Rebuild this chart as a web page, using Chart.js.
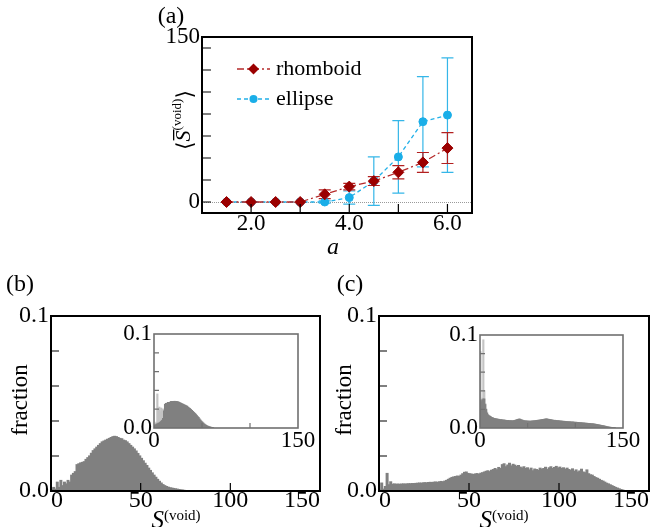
<!DOCTYPE html>
<html>
<head>
<meta charset="utf-8">
<script src="https://cdn.jsdelivr.net/npm/chart.js@4.4.0/dist/chart.umd.min.js"></script>
<style>
  html, body { margin: 0; padding: 0; background: #fff; }
  #wrap { position: relative; width: 652px; height: 527px; overflow: hidden; background: #fff; }
  #wrap canvas { position: absolute; left: 0; top: 0; }
</style>
</head>
<body>
<div id="wrap">
  <canvas id="chartA" width="652" height="527"></canvas>
  <canvas id="chartB" width="652" height="527"></canvas>
  <canvas id="chartBInset" width="652" height="527"></canvas>
  <canvas id="chartC" width="652" height="527"></canvas>
  <canvas id="chartCInset" width="652" height="527"></canvas>
</div>
<script>
// --- Panel (a): mean void size vs a ---
const aValues = [1.5, 2.0, 2.5, 3.0, 3.5, 4.0, 4.5, 5.0, 5.5, 6.0];
const rhomboidMean = [0, 0, 0, 0, 7, 14, 19, 27, 36, 49];
const rhomboidErr = [0, 0, 0, 0, 4, 3, 4, 6, 9, 14];
const ellipseMean = [0, 0, 0, 0, 0, 4, 19, 41, 73, 79];
const ellipseErr = [0, 0, 0, 0, 1, 6, 22, 33, 41, 52];

const aXTickMarks = [2, 3, 4, 5, 6];
const aXTickLabels = [2, 4, 6];
const aYTickMarks = [0, 20, 40, 60, 80, 100, 120, 140];
const aYTickLabels = [0, 150];

// --- Histograms: bin width 1, first bin starts at S = 0 ---
const bMain = [
  0.001, 0.002, 0.001, 0.005, 0.002, 0.006, 0.003, 0.005, 0.004, 0.006,
  0.005, 0.009, 0.010, 0.011, 0.015, 0.0155, 0.016, 0.0163, 0.0167, 0.018,
  0.019, 0.020, 0.0215, 0.023, 0.024, 0.025, 0.026, 0.027, 0.028, 0.0285,
  0.029, 0.0295, 0.030, 0.0305, 0.031, 0.0312, 0.031, 0.0305, 0.030, 0.0298,
  0.029, 0.0287, 0.028, 0.027, 0.026, 0.025, 0.024, 0.0228, 0.0214, 0.020,
  0.0186, 0.0172, 0.0158, 0.0145, 0.013, 0.0117, 0.0103, 0.009, 0.0078, 0.0066,
  0.0055, 0.0045, 0.0036, 0.003, 0.0025, 0.0021, 0.0018, 0.0016, 0.0014, 0.0012,
  0.001, 0.0008, 0.0006, 0.0005, 0.0003
];
const bInsetDark = [
  0.002, 0.003, 0.004, 0.004, 0.005, 0.005, 0.006, 0.007, 0.008, 0.010,
  0.018, 0.025, 0.026, 0.026, 0.027, 0.027, 0.027, 0.028, 0.028, 0.028,
  0.028, 0.0282, 0.028, 0.028, 0.0278, 0.0275, 0.027, 0.0265, 0.026, 0.0255,
  0.025, 0.0245, 0.024, 0.0235, 0.023, 0.022, 0.0212, 0.0205, 0.0195, 0.0185,
  0.0175, 0.0165, 0.0155, 0.0145, 0.0133, 0.012, 0.011, 0.0095, 0.0082, 0.007,
  0.006, 0.005, 0.004, 0.0033, 0.0026, 0.002, 0.0016, 0.0012, 0.0009, 0.0006,
  0.0004, 0.0002
];
const bInsetLight = [0, 0.004, 0.006, 0.036, 0.020, 0.022, 0.017, 0.021, 0.018, 0.020, 0.014];

const cMain = [
  0.0005, 0.0045, 0.001, 0.0025, 0.0100, 0.0035, 0.0052, 0.0038, 0.0040, 0.0038,
  0.0039, 0.0038, 0.0039, 0.0040, 0.0039, 0.0040, 0.0041, 0.0041, 0.0042, 0.0042,
  0.0043, 0.0044, 0.0045, 0.0044, 0.0046, 0.0047, 0.0046, 0.0048, 0.0049, 0.0048,
  0.0050, 0.0051, 0.0049, 0.0052, 0.0054, 0.0052, 0.0056, 0.0060, 0.0066, 0.0072,
  0.0077, 0.0080, 0.0082, 0.0085, 0.0083, 0.0090, 0.0098, 0.0106, 0.0108, 0.0100,
  0.0098, 0.0096, 0.0094, 0.0097, 0.0099, 0.0095, 0.0101, 0.0104, 0.0108, 0.0112,
  0.0115, 0.0110, 0.0118, 0.0122, 0.0128, 0.0121, 0.0134, 0.0128, 0.0150, 0.0155,
  0.0138, 0.0148, 0.0158, 0.0143, 0.0152, 0.0147, 0.0140, 0.0145, 0.0136, 0.0131,
  0.0138, 0.0128, 0.0132, 0.0120, 0.0130, 0.0115, 0.0125, 0.0122, 0.0118, 0.0130,
  0.0124, 0.0128, 0.0135, 0.0122, 0.0132, 0.0138, 0.0128, 0.0134, 0.0140, 0.0131,
  0.0136, 0.0128, 0.0132, 0.0124, 0.0130, 0.0122, 0.0118, 0.0126, 0.0112, 0.0120,
  0.0108, 0.0114, 0.0124, 0.0108, 0.0104, 0.0120, 0.0098, 0.0092, 0.0090, 0.0082,
  0.0076, 0.0072, 0.0066, 0.0060, 0.0056, 0.0050, 0.0044, 0.0040, 0.0035, 0.0030,
  0.0025, 0.0020, 0.0016, 0.0012, 0.0008, 0.0005, 0.0002
];
const cInsetDark = [
  0.030, 0.028, 0.030, 0.031, 0.031, 0.025, 0.020, 0.016, 0.014, 0.013,
  0.0125, 0.0118, 0.011, 0.0108, 0.0102, 0.0100, 0.0097, 0.0096, 0.0093, 0.0092,
  0.0090, 0.0087, 0.0088, 0.0085, 0.0083, 0.0084, 0.0081, 0.0080, 0.0078, 0.0079,
  0.0077, 0.0075, 0.0077, 0.0074, 0.0076, 0.0077, 0.0079, 0.0083, 0.0087, 0.0090,
  0.0093, 0.0095, 0.0091, 0.0086, 0.0083, 0.0078, 0.0077, 0.0074, 0.0075, 0.0072,
  0.0073, 0.0071, 0.0072, 0.0071, 0.0074, 0.0073, 0.0076, 0.0075, 0.0078, 0.0080,
  0.0080, 0.0083, 0.0082, 0.0086, 0.0087, 0.0090, 0.0089, 0.0093, 0.0094, 0.0096,
  0.0095, 0.0092, 0.0091, 0.0088, 0.0087, 0.0084, 0.0083, 0.0080, 0.0081, 0.0078,
  0.0078, 0.0076, 0.0077, 0.0074, 0.0073, 0.0073, 0.0071, 0.0070, 0.0070, 0.0068,
  0.0068, 0.0066, 0.0066, 0.0064, 0.0065, 0.0063, 0.0062, 0.0063, 0.0061, 0.0060,
  0.0060, 0.0059, 0.0058, 0.0058, 0.0056, 0.0055, 0.0055, 0.0053, 0.0052, 0.0052,
  0.0050, 0.0049, 0.0049, 0.0047, 0.0046, 0.0046, 0.0044, 0.0043, 0.0043, 0.0041,
  0.0040, 0.0038, 0.0036, 0.0034, 0.0032, 0.0030, 0.0028, 0.0026, 0.0024, 0.0022,
  0.0020, 0.0017, 0.0015, 0.0012, 0.0010, 0.0008, 0.0006, 0.0005, 0.0003, 0.0002,
  0.0001, 0.0001
];
const cInsetLight = [0.082, 0.030, 0.032, 0.0946, 0.040, 0.026, 0.018, 0.014];

const histXTickMarks = [50, 100];
const histYTickMarks = [0.02, 0.04, 0.06, 0.08];
const mainXLabels = [0, 50, 100, 150];
const insetXLabels = [0, 150];
const histYLabels = [0, 0.1];

// --- Shared setup ---
const W = 652, H = 527;
const FONT = '"Liberation Serif", "Times New Roman", serif';
Chart.defaults.font.family = FONT;
Chart.defaults.color = '#000';
Chart.defaults.animation = false;

const DARK = '#808080';
const LIGHT = '#c4c4c4';
const NO_GRID = { display: false, drawTicks: false };

function drawRuns(ctx, runs, x, y, rot) {
  ctx.save();
  ctx.translate(x, y);
  if (rot) ctx.rotate(rot);
  ctx.textAlign = 'left';
  ctx.textBaseline = 'alphabetic';
  ctx.fillStyle = '#000';
  let total = 0;
  runs.forEach(r => { ctx.font = r.font; r.w = ctx.measureText(r.t).width; total += r.w; });
  let cx = -total / 2;
  runs.forEach(r => {
    ctx.font = r.font;
    ctx.fillText(r.t, cx, r.dy || 0);
    if (r.over) ctx.fillRect(cx + r.over[0], r.over[1], r.w - r.over[0] + r.over[2], 1.3);
    cx += r.w;
  });
  ctx.restore();
}

function drawMarker(ctx, style, x, y, r) {
  ctx.beginPath();
  if (style === 'rectRot') {
    ctx.moveTo(x, y - r); ctx.lineTo(x + r, y); ctx.lineTo(x, y + r); ctx.lineTo(x - r, y);
    ctx.closePath();
  } else {
    ctx.arc(x, y, r, 0, Math.PI * 2);
  }
  ctx.fill();
}

const decorPlugin = {
  id: 'decor',
  beforeDatasetsDraw(chart, args, o) {
    const { ctx, chartArea: area, scales } = chart;
    const xs = scales.x, ys = scales.y;
    ctx.save();
    if (o.fill) {
      ctx.fillStyle = o.fill;
      ctx.fillRect(area.left, area.top, area.right - area.left, area.bottom - area.top);
    }
    if (o.zeroLine) {
      const py = Math.round(ys.getPixelForValue(0)) + 0.5;
      ctx.strokeStyle = '#9a9a9a';
      ctx.lineWidth = 1;
      ctx.setLineDash([1, 1]);
      ctx.beginPath(); ctx.moveTo(area.left, py); ctx.lineTo(area.right, py); ctx.stroke();
      ctx.setLineDash([]);
    }
    if (o.errorBars) {
      // last dataset first so the first one sits on top
      for (let d = chart.data.datasets.length - 1; d >= 0; d--) {
        const ds = chart.data.datasets[d];
        if (!ds.errors) continue;
        ctx.strokeStyle = ds.errorColor;
        ctx.lineWidth = 1.2;
        ds.data.forEach((p, i) => {
          const e = ds.errors[i];
          if (!e) return;
          const px = xs.getPixelForValue(p.x);
          const top = ys.getPixelForValue(p.y + e);
          const bot = ys.getPixelForValue(p.y - e);
          ctx.beginPath();
          ctx.moveTo(px, top); ctx.lineTo(px, bot);
          ctx.moveTo(px - 6, top); ctx.lineTo(px + 6, top);
          ctx.moveTo(px - 6, bot); ctx.lineTo(px + 6, bot);
          ctx.stroke();
        });
      }
    }
    ctx.restore();
  },
  afterDatasetsDraw(chart, args, o) {
    const { ctx, chartArea: area, scales } = chart;
    const xs = scales.x, ys = scales.y;
    ctx.save();
    ctx.strokeStyle = o.frameColor;
    ctx.lineWidth = 1.2;
    ctx.beginPath();
    (o.xTicks || []).forEach(v => {
      const px = xs.getPixelForValue(v);
      ctx.moveTo(px, area.bottom); ctx.lineTo(px, area.bottom - o.tickLen);
    });
    (o.yTicks || []).forEach(v => {
      const py = ys.getPixelForValue(v);
      ctx.moveTo(area.left, py); ctx.lineTo(area.left + o.tickLen, py);
    });
    ctx.stroke();
    ctx.lineWidth = o.frameWidth;
    ctx.strokeRect(area.left, area.top, area.right - area.left, area.bottom - area.top);

    if (o.legend) {
      const lg = o.legend;
      chart.data.datasets.forEach((ds, i) => {
        const y = lg.y + i * lg.dy;
        ctx.strokeStyle = ds.borderColor;
        ctx.lineWidth = ds.borderWidth;
        ctx.setLineDash(ds.borderDash);
        ctx.beginPath(); ctx.moveTo(lg.x, y); ctx.lineTo(lg.x + 33, y); ctx.stroke();
        ctx.setLineDash([]);
        ctx.fillStyle = ds.pointBackgroundColor;
        drawMarker(ctx, ds.pointStyle, lg.x + 16.5, y, ds.pointRadius);
        ctx.fillStyle = '#000';
        ctx.font = lg.font;
        ctx.textAlign = 'left';
        ctx.textBaseline = 'middle';
        ctx.fillText(ds.label, lg.x + 39, y);
      });
    }
    ctx.restore();
  },
  afterDraw(chart, args, o) {
    (o.texts || []).forEach(t => drawRuns(chart.ctx, t.runs, t.x, t.y, t.rot));
  }
};
Chart.register(decorPlugin);

// pin the plot area of a full-page canvas to fixed pixel edges
function pinned(f) {
  return {
    layout: { padding: { left: 0, top: f.top, right: W - f.right, bottom: 0 } },
    yFit: s => { s.width = f.left; },
    xFit: s => { s.height = H - f.bottom; }
  };
}

function tickList(values) {
  return s => { s.ticks = values.map(v => ({ value: v })); };
}

// --- Chart (a) ---
const frameA = { left: 202, top: 37, right: 472, bottom: 213 };
const pinA = pinned(frameA);
new Chart(document.getElementById('chartA'), {
  type: 'line',
  data: {
    datasets: [
      {
        label: 'rhomboid',
        data: aValues.map((x, i) => ({ x, y: rhomboidMean[i] })),
        errors: rhomboidErr,
        errorColor: '#b32020',
        borderColor: '#b52a2a',
        borderWidth: 1.3,
        borderDash: [7, 3, 2, 3],
        pointStyle: 'rectRot',
        pointRadius: 5.5,
        pointBackgroundColor: '#9b0000',
        pointBorderColor: '#9b0000',
        pointBorderWidth: 1,
        tension: 0
      },
      {
        label: 'ellipse',
        data: aValues.map((x, i) => ({ x, y: ellipseMean[i] })),
        errors: ellipseErr,
        errorColor: '#35b6e8',
        borderColor: '#22b0e8',
        borderWidth: 1.3,
        borderDash: [4, 3],
        pointStyle: 'circle',
        pointRadius: 4,
        pointBackgroundColor: '#1aaee8',
        pointBorderColor: '#1aaee8',
        pointBorderWidth: 1,
        tension: 0
      }
    ]
  },
  options: {
    responsive: false,
    layout: pinA.layout,
    clip: false,
    scales: {
      x: {
        type: 'linear', min: 1, max: 6.5,
        grid: NO_GRID, border: { display: false },
        afterBuildTicks: tickList(aXTickLabels),
        afterFit: pinA.xFit,
        ticks: { padding: -3, font: { size: 23 }, callback: v => v.toFixed(1) }
      },
      y: {
        type: 'linear', min: -10, max: 150,
        grid: NO_GRID, border: { display: false },
        afterBuildTicks: tickList(aYTickLabels),
        afterFit: pinA.yFit,
        ticks: { padding: 2, font: { size: 23 }, callback: v => String(v) }
      }
    },
    plugins: {
      legend: { display: false },
      tooltip: { enabled: false },
      decor: {
        frameColor: '#000', frameWidth: 2, tickLen: 9,
        xTicks: aXTickMarks, yTicks: aYTickMarks,
        zeroLine: true, errorBars: true,
        legend: { x: 237, y: 69, dy: 30, font: `22px ${FONT}` },
        texts: [
          { runs: [{ t: '(a)', font: `24px ${FONT}` }], x: 171, y: 23 },
          { runs: [{ t: 'a', font: `italic 24px ${FONT}` }], x: 333, y: 254 },
          {
            rot: -Math.PI / 2, x: 190, y: 120,
            runs: [
              { t: '\u27E8', font: `22px "DejaVu Serif", ${FONT}`, dy: 2 },
              { t: 'S', font: `italic 22px ${FONT}`, over: [1, -17, 1] },
              { t: '(void)', font: `13px ${FONT}`, dy: -9 },
              { t: '\u27E9', font: `22px "DejaVu Serif", ${FONT}`, dy: 2 }
            ]
          }
        ]
      }
    }
  }
});

// --- Histogram builder ---
function histChart(id, frame, series, o) {
  const pin = pinned(frame);
  new Chart(document.getElementById(id), {
    type: 'bar',
    data: {
      datasets: series.map(s => ({
        data: s.values.map((v, i) => ({ x: i + 0.5, y: v })),
        backgroundColor: s.color,
        borderWidth: 0,
        inflateAmount: 0.6,
        barPercentage: 1,
        categoryPercentage: 1,
        grouped: false,
        order: s.order
      }))
    },
    options: {
      responsive: false,
      layout: pin.layout,
      scales: {
        x: {
          type: 'linear', min: 0, max: 150, offset: false,
          grid: NO_GRID, border: { display: false },
          afterBuildTicks: tickList(o.xLabels),
          afterFit: pin.xFit,
          ticks: { padding: o.xPad, align: o.xAlign, font: { size: o.fontSize }, callback: v => String(v) }
        },
        y: {
          type: 'linear', min: 0, max: 0.1,
          grid: NO_GRID, border: { display: false },
          afterBuildTicks: tickList(histYLabels),
          afterFit: pin.yFit,
          ticks: { padding: o.yPad, font: { size: o.fontSize }, callback: v => v.toFixed(1) }
        }
      },
      plugins: {
        legend: { display: false },
        tooltip: { enabled: false },
        decor: {
          fill: o.fill, frameColor: o.frameColor, frameWidth: o.frameWidth, tickLen: o.tickLen,
          xTicks: histXTickMarks, yTicks: histYTickMarks,
          texts: o.texts || []
        }
      }
    }
  });
}

function voidTitle(cx) {
  return {
    x: cx, y: 528,
    runs: [
      { t: 'S', font: `italic 25px ${FONT}` },
      { t: '(void)', font: `15px ${FONT}`, dy: -8 }
    ]
  };
}

// --- Chart (b) ---
histChart('chartB', { left: 51, top: 316, right: 320, bottom: 491 },
  [{ values: bMain, color: DARK, order: 1 }],
  {
    xLabels: mainXLabels, xAlign: 'inner', xPad: -5, yPad: 2, fontSize: 24,
    frameColor: '#000', frameWidth: 2, tickLen: 8,
    texts: [
      { runs: [{ t: '(b)', font: `24px ${FONT}` }], x: 20, y: 291 },
      { runs: [{ t: 'fraction', font: `23px ${FONT}` }], x: 27, y: 400, rot: -Math.PI / 2 },
      voidTitle(176)
    ]
  });

histChart('chartBInset', { left: 154, top: 334, right: 298, bottom: 428 },
  [{ values: bInsetLight, color: LIGHT, order: 2 }, { values: bInsetDark, color: DARK, order: 1 }],
  {
    xLabels: insetXLabels, xAlign: 'center', xPad: -1, yPad: 2, fontSize: 23,
    fill: '#fff', frameColor: '#707070', frameWidth: 1.6, tickLen: 5
  });

// --- Chart (c) ---
histChart('chartC', { left: 379, top: 316, right: 649, bottom: 491 },
  [{ values: cMain, color: DARK, order: 1 }],
  {
    xLabels: mainXLabels, xAlign: 'inner', xPad: -5, yPad: 2, fontSize: 24,
    frameColor: '#000', frameWidth: 2, tickLen: 8,
    texts: [
      { runs: [{ t: '(c)', font: `24px ${FONT}` }], x: 350, y: 291 },
      { runs: [{ t: 'fraction', font: `23px ${FONT}` }], x: 351, y: 400, rot: -Math.PI / 2 },
      voidTitle(504)
    ]
  });

histChart('chartCInset', { left: 480, top: 335, right: 623, bottom: 428 },
  [{ values: cInsetLight, color: LIGHT, order: 2 }, { values: cInsetDark, color: DARK, order: 1 }],
  {
    xLabels: insetXLabels, xAlign: 'center', xPad: -1, yPad: 2, fontSize: 23,
    fill: '#fff', frameColor: '#707070', frameWidth: 1.6, tickLen: 5
  });
</script>
</body>
</html>
